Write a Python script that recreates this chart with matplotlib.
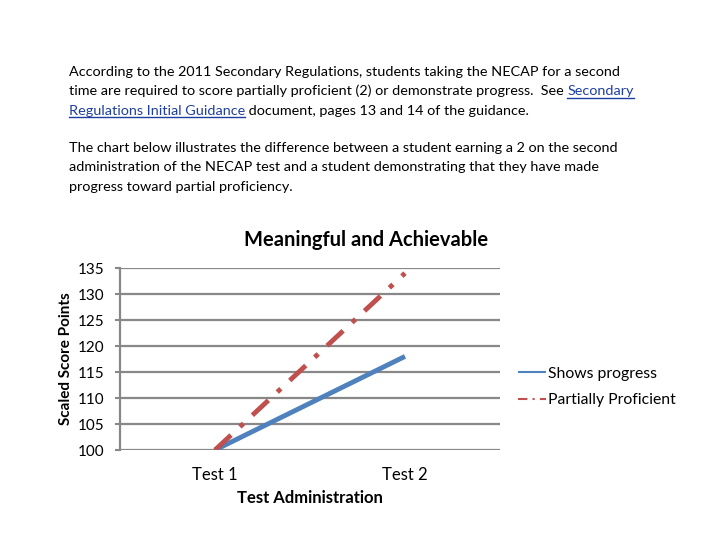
import matplotlib
matplotlib.use('Agg')
import matplotlib.pyplot as plt

# chart values
tests = ['Test 1', 'Test 2']
shows_progress = [100, 118]
partially_proficient = [100, 134]
yticks = [100, 105, 110, 115, 120, 125, 130, 135]

para1 = [
    [('According to the 2011 Secondary Regulations, students taking the NECAP for a second', 'k')],
    [('time are required to score partially proficient (2) or demonstrate progress.  See ', 'k'),
     ('Secondary', 'link')],
    [('Regulations Initial Guidance', 'link'),
     (' document, pages 13 and 14 of the guidance.', 'k')],
]
para2 = [
    [('The chart below illustrates the difference between a student earning a 2 on the second', 'k')],
    [('administration of the NECAP test and a student demonstrating that they have made', 'k')],
    [('progress toward partial proficiency.', 'k')],
]

plt.rcParams['font.family'] = ['Lato', 'DejaVu Sans']

fig = plt.figure(figsize=(7.2, 5.4), dpi=100)
W, H = 720, 540


def fx(px):
    return px / W


def fy(py):
    return 1 - py / H


renderer = fig.canvas.get_renderer()


def text_line(segments, x0, y0, size=10.4):
    x = x0
    for txt, kind in segments:
        color = '#1f3fa0' if kind == 'link' else 'black'
        t = fig.text(fx(x), fy(y0), txt, fontsize=size, color=color,
                     va='baseline', ha='left')
        bb = t.get_window_extent(renderer)
        if kind == 'link':
            fig.add_artist(plt.Line2D([fx(x), fx(x + bb.width)],
                                      [fy(y0 + 2.5), fy(y0 + 2.5)],
                                      color=color, lw=1.0))
        x += bb.width


for i, line in enumerate(para1):
    text_line(line, 69, 76 + i * 19.3)
for i, line in enumerate(para2):
    text_line(line, 69, 152 + i * 19.3)

# axes box: x 120..500, y 268..450
ax = fig.add_axes([fx(120), fy(450), (500 - 120) / W, (450 - 268) / H])
xs = list(range(len(tests)))
ax.plot(xs, shows_progress, color='#4f81bd', lw=3.5, label='Shows progress',
        solid_capstyle='butt')
ax.plot(xs, partially_proficient, color='#c0504d', lw=3.5,
        dashes=(4.5, 2.5, 1, 2.5), label='Partially Proficient',
        dash_capstyle='butt')

ax.set_xlim(-0.5, 1.5)
ax.set_ylim(100, 135)
ax.set_yticks(yticks)
ax.set_xticks(xs)
ax.set_xticklabels(tests, fontsize=12)
ax.tick_params(axis='y', labelsize=11, length=3.5, width=1.5, color='#888888', pad=8)
ax.tick_params(axis='x', length=0, pad=12)
ax.yaxis.grid(True, color='#888888', lw=1.6)
ax.set_axisbelow(True)
for s in ['top', 'right', 'bottom']:
    ax.spines[s].set_visible(False)
ax.spines['left'].set_color('#888888')
ax.spines['left'].set_linewidth(1.6)

ax.set_title('Meaningful and Achievable', fontsize=14.5, fontweight='bold', pad=16,
             x=(366 - 120) / 380)
ax.set_xlabel('Test Administration', fontsize=12, fontweight='bold', labelpad=5)
ax.set_ylabel('Scaled Score Points', fontsize=11, fontweight='bold',
              va='center')
ax.yaxis.set_label_coords((66 - 120) / 380, 0.5)

leg = ax.legend(loc='center left', bbox_to_anchor=(1.01, 0.345), frameon=False,
                fontsize=11.3, handlelength=1.8, handletextpad=0.1,
                labelspacing=0.8)
for h in leg.get_lines():
    h.set_linewidth(1.5)

fig.savefig('out.png', dpi=100)
